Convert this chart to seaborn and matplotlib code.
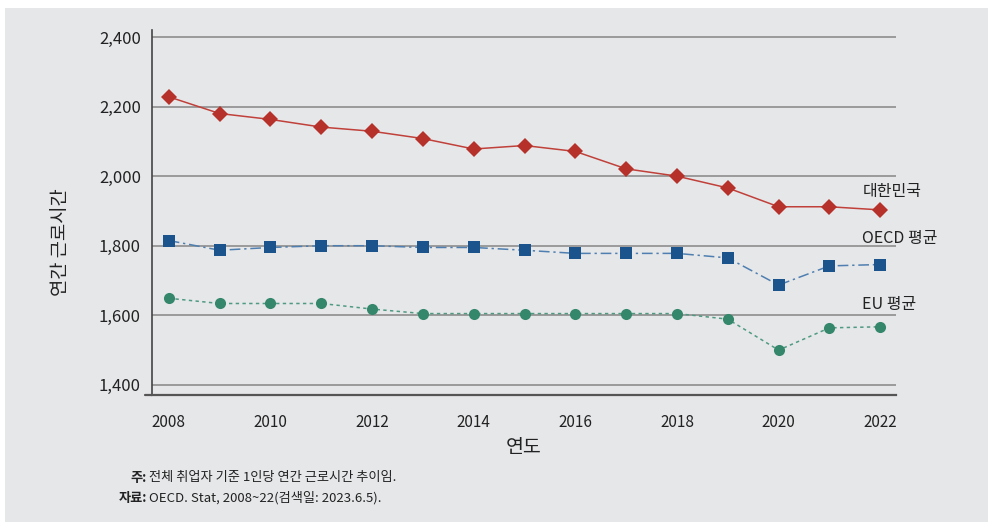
import pandas as pd
import matplotlib.pyplot as plt
import seaborn as sns
from matplotlib.patches import Rectangle
from matplotlib.lines import Line2D

# Data
years = list(range(2008, 2023))
korea = [2228, 2180, 2163, 2141, 2129, 2108, 2078, 2088, 2071, 2021, 2000, 1966, 1912, 1912, 1903]
oecd = [1815, 1787, 1795, 1800, 1800, 1795, 1795, 1787, 1778, 1778, 1778, 1765, 1687, 1742, 1746]
eu = [1649, 1634, 1634, 1634, 1618, 1605, 1605, 1605, 1605, 1605, 1605, 1589, 1500, 1564, 1567]
series_names = ['대한민국', 'OECD 평균', 'EU 평균']
yticks = [1400, 1600, 1800, 2000, 2200, 2400]
xticks = [2008, 2010, 2012, 2014, 2016, 2018, 2020, 2022]

df = pd.DataFrame({'연도': years, '대한민국': korea, 'OECD 평균': oecd, 'EU 평균': eu})

sns.set_style('white')
plt.rcParams['font.family'] = ['Noto Sans CJK KR', 'DejaVu Sans']

bg = '#e6e7e9'
fig = plt.figure(figsize=(9.88, 5.22), dpi=100, facecolor='white')
fig.patches.append(Rectangle((5 / 988, 0), 1, 1 - 8 / 522, transform=fig.transFigure,
                             facecolor=bg, edgecolor='none', zorder=-10))
ax = fig.add_axes([152 / 988, 1 - 395 / 522, (896 - 152) / 988, (395 - 30) / 522])
ax.set_facecolor(bg)

styles = {
    '대한민국': dict(line='#c0403a', mk='#b5312a', marker='D', ms=8.5, dashes=None),
    'OECD 평균': dict(line='#4f7fb0', mk='#1b538d', marker='s', ms=8.5, dashes=(7, 2.5, 1.5, 2.5)),
    'EU 평균': dict(line='#4f9a80', mk='#34876b', marker='o', ms=8, dashes=(2.2, 2.2)),
}

for name in series_names:
    st = styles[name]
    sns.lineplot(data=df, x='연도', y=name, ax=ax, color=st['line'], linewidth=1.1,
                 marker=st['marker'], markersize=st['ms'], markerfacecolor=st['mk'],
                 markeredgecolor=st['mk'], markeredgewidth=0, zorder=3)
    if st['dashes'] is not None:
        ax.lines[-1].set_dashes(st['dashes'])

ax.set_xlim(2007.67, 2022.31)
ax.set_ylim(1371, 2420)
ax.set_xticks(xticks)
ax.set_yticks(yticks)
ax.set_yticklabels([f'{v:,}' for v in yticks])
ax.grid(axis='y', color='#9a9a9a', linewidth=1.4, zorder=1)
ax.set_axisbelow(True)

for s in ['top', 'right']:
    ax.spines[s].set_visible(False)
ax.spines['left'].set_color('#444444')
ax.spines['bottom'].set_color('#555555')
ax.spines['left'].set_linewidth(1.2)
ax.spines['bottom'].set_linewidth(1.6)
ax.add_line(Line2D([-0.01, 0], [0, 0], transform=ax.transAxes, color='#555555',
                   linewidth=1.6, clip_on=False))

ax.tick_params(axis='x', direction='out', length=8, width=1.2, color='#555555',
               labelsize=11, pad=6, labelcolor='#222222')
ax.tick_params(axis='y', direction='out', length=5, width=1.4, color='#9a9a9a',
               labelsize=12, pad=3, labelcolor='#222222')
for lab in ax.get_xticklabels() + ax.get_yticklabels():
    lab.set_fontweight('medium')

ax.set_xlabel('연도', fontsize=14, color='#222222', labelpad=4, fontweight='medium')
ax.set_ylabel('연간 근로시간', fontsize=13.5, color='#222222', fontweight='medium')
ax.yaxis.set_label_coords((71 - 152) / 744, (395 - 242) / 365)

# Series labels at right end
label_y = {'대한민국': 1955, 'OECD 평균': 1822, 'EU 평균': 1632}
for name in series_names:
    ax.text(2021.65, label_y[name], name, fontsize=11.5, color='#222222',
            ha='left', va='center', zorder=4, clip_on=False, fontweight='medium')

# Notes
fig.text(147 / 988, 1 - 478 / 522, '주:', fontsize=9.5, fontweight='bold',
         ha='right', va='center', color='#222222')
fig.text(149 / 988, 1 - 478 / 522, '전체 취업자 기준 1인당 연간 근로시간 추이임.', fontsize=9.5,
         ha='left', va='center', color='#222222')
fig.text(147 / 988, 1 - 498 / 522, '자료:', fontsize=9.5, fontweight='bold',
         ha='right', va='center', color='#222222')
fig.text(149 / 988, 1 - 498 / 522, 'OECD. Stat, 2008~22(검색일: 2023.6.5).', fontsize=9.5,
         ha='left', va='center', color='#222222')

plt.savefig('out.png', dpi=100, facecolor='white')
